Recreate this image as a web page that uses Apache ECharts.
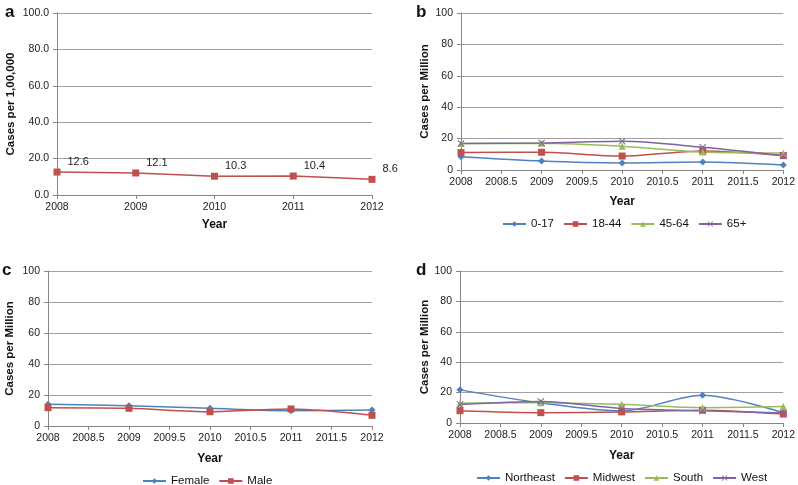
<!DOCTYPE html>
<html><head><meta charset="utf-8">
<script src="https://cdn.jsdelivr.net/npm/echarts@6/dist/echarts.min.js"></script>
<style>html,body{margin:0;padding:0;background:#fff}#c{width:798px;height:485px}</style>
</head><body><div id="c"></div>
<script>
const years = [2008, 2009, 2010, 2011, 2012];
// Panel a: overall rate per 1,00,000
const overallRate = [12.6, 12.1, 10.3, 10.4, 8.6];
// Panel b: age groups (cases per million)
const ageNames = ['0-17', '18-44', '45-64', '65+'];
const age0_17 = [8.5, 5.7, 4.5, 5.1, 3.2];
const age18_44 = [11.1, 11.3, 8.9, 12.1, 9.2];
const age45_64 = [16.8, 17.0, 15.1, 11.5, 10.9];
const age65plus = [16.8, 17.2, 18.3, 14.5, 9.1];
// Panel c: sex
const sexNames = ['Female', 'Male'];
const female = [14.0, 13.1, 11.4, 9.9, 10.3];
const male = [11.8, 11.4, 9.2, 11.0, 6.9];
// Panel d: regions
const regionNames = ['Northeast', 'Midwest', 'South', 'West'];
const northeast = [21.8, 13.2, 7.9, 18.2, 6.8];
const midwest = [8.1, 6.8, 7.3, 8.4, 5.9];
const south = [13.0, 13.4, 12.3, 10.1, 10.8];
const west = [12.1, 14.1, 9.5, 8.1, 6.6];

const FONT = 'Liberation Sans';
const colors = ['#4F81BD', '#C0504D', '#9BBB59', '#8064A2'];
const crossPath = 'path://M0,1L1,0L5,4L9,0L10,1L6,5L10,9L9,10L5,6L1,10L0,9L4,5Z';
const symbols = ['diamond', 'rect', 'triangle', crossPath];
const symSizes = [7, 7, 7, 7];

function pts(vals) { return years.map((y, i) => [y, vals[i]]); }

const grids = [
  {left: 57, top: 13, width: 315, height: 182},
  {left: 461, top: 13, width: 324, height: 157},
  {left: 48, top: 271, width: 324, height: 155},
  {left: 460, top: 271, width: 325, height: 152}
];
const yNames = ['Cases per 1,00,000', 'Cases per Million', 'Cases per Million', 'Cases per Million'];
const yGaps = [40, 30, 32, 28];
const xGaps = [24, 26, 27, 27];

const axisLine = {show: true, lineStyle: {color: '#868686', width: 1}};
const xAxes = grids.map((g, i) => ({
  type: 'value', gridIndex: i, min: 2008, max: 2012, interval: i === 0 ? 1 : 0.5,
  axisLine: axisLine, axisTick: {show: true, length: 4, lineStyle: {color: '#868686'}},
  splitLine: {show: false},
  axisLabel: {color: '#222', fontFamily: FONT, fontSize: 10.5, margin: 7, formatter: v => String(v)},
  name: 'Year', nameLocation: 'middle', nameGap: xGaps[i],
  nameTextStyle: {fontFamily: FONT, fontWeight: 'bold', fontSize: 12, color: '#111'}
}));
const yAxes = grids.map((g, i) => ({
  type: 'value', gridIndex: i, min: 0, max: 100, interval: 20,
  axisLine: axisLine, axisTick: {show: true, length: 4, lineStyle: {color: '#868686'}},
  splitLine: {show: true, lineStyle: {color: '#a0a0a0', width: 1}},
  axisLabel: {color: '#222', fontFamily: FONT, fontSize: 10.5, margin: 8,
    formatter: i === 0 ? (v => v.toFixed(1)) : (v => String(v))},
  name: yNames[i], nameLocation: 'middle', nameGap: yGaps[i],
  nameTextStyle: {fontFamily: FONT, fontWeight: 'bold', fontSize: 11.5, color: '#111'}
}));

function lineSeries(name, vals, k, gi, smooth) {
  return {
    type: 'line', name: name, xAxisIndex: gi, yAxisIndex: gi, data: pts(vals),
    smooth: smooth ? 0.3 : false, symbol: symbols[k], symbolSize: symSizes[k],
    showAllSymbol: true,
    lineStyle: {color: colors[k], width: 1.5}, itemStyle: {color: colors[k]},
    emphasis: {disabled: true}
  };
}

const series = [];
const sA = lineSeries('Overall', overallRate, 1, 0, false);
sA.label = {show: true, position: 'right', distance: 5, offset: [2, -10],
  fontFamily: FONT, fontSize: 11, color: '#222', formatter: p => p.value[1].toFixed(1)};
series.push(sA);
[age0_17, age18_44, age45_64, age65plus].forEach((v, k) => series.push(lineSeries(ageNames[k], v, k, 1, true)));
[female, male].forEach((v, k) => series.push(lineSeries(sexNames[k], v, k, 2, true)));
[northeast, midwest, south, west].forEach((v, k) => series.push(lineSeries(regionNames[k], v, k, 3, true)));

const legendBase = {itemWidth: 23, itemHeight: 7, itemGap: 9, orient: 'horizontal', width: 400,
  textStyle: {fontFamily: FONT, fontSize: 11.5, color: '#111'}};
const legends = [
  Object.assign({}, legendBase, {data: ageNames, left: 497, top: 213}),
  Object.assign({}, legendBase, {data: sexNames, left: 137, top: 470}),
  Object.assign({}, legendBase, {data: regionNames, left: 471, top: 467})
];

const panelLabels = [['a', 5, 4], ['b', 416, 4], ['c', 2, 262], ['d', 416, 262]];
const graphic = panelLabels.map(p => ({
  type: 'text', left: p[1], top: p[2],
  style: {text: p[0], font: 'bold 17px ' + FONT, fill: '#111'}
}));

const chart = echarts.init(document.getElementById('c'), null, {renderer: 'canvas'});
chart.setOption({
  animation: false, backgroundColor: '#fff',
  grid: grids, xAxis: xAxes, yAxis: yAxes, series: series,
  legend: legends,
  graphic: graphic
});
</script></body></html>
